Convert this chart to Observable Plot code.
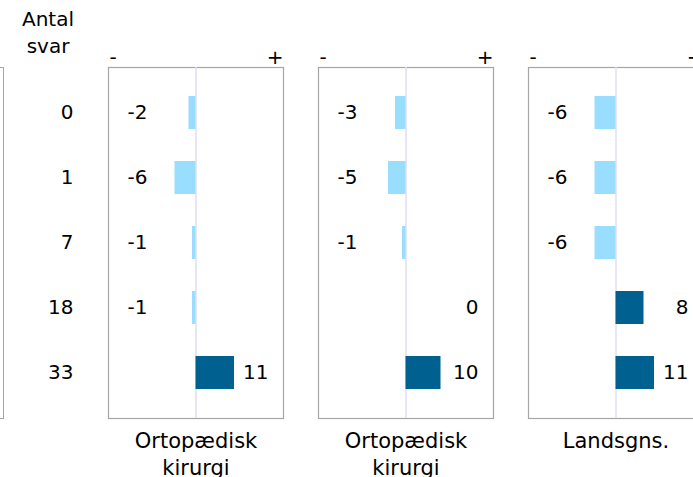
<!DOCTYPE html>
<html><head><meta charset="utf-8">
<script src="https://cdn.jsdelivr.net/npm/d3@7"></script>
<script src="https://cdn.jsdelivr.net/npm/@observablehq/plot@0.6"></script>
<style>
html,body{margin:0;padding:0;overflow:hidden;background:#fff;width:693px;height:477px}
#wrap{position:relative;width:720px;height:477px;font-family:"DejaVu Sans",Verdana,sans-serif}
#head{position:absolute;left:0;width:96px;top:6px;text-align:center;font-size:20px;line-height:27px;color:#000}
#leftpanel{position:absolute;left:-100px;top:67px;width:102px;height:350px;border:1px solid #a6a6a6}
#chart{position:absolute;left:0;top:0}
</style></head><body><div id="wrap"><div id="leftpanel"></div><div id="head">Antal<br>svar</div><div id="chart"></div></div>
<script>
const rows = ["0", "1", "7", "18", "33"];
const panelIds = ["p1", "p2", "p3"];
const panelLabels = ["Ortopædisk\nkirurgi", "Ortopædisk\nkirurgi", "Landsgns."];
const valuesP1 = [-2, -6, -1, -1, 11];
const valuesP2 = [-3, -5, -1, 0, 10];
const valuesP3 = [-6, -6, -6, 8, 11];
const negColor = "#99ddff";
const posColor = "#006090";

const allValues = [valuesP1, valuesP2, valuesP3];
const data = [];
panelIds.forEach((p, i) => rows.forEach((r, j) => data.push({panel: p, row: r, value: allValues[i][j]})));
const panelInfo = panelIds.map((id, i) => ({id, label: panelLabels[i]}));

const chart = Plot.plot({
  width: 720, height: 477,
  marginTop: 67, marginBottom: 59, marginLeft: 108, marginRight: 17,
  style: {fontFamily: "'DejaVu Sans', Verdana, sans-serif", fontSize: "20px", color: "#000", background: "transparent", overflow: "visible"},
  fx: {domain: panelIds, paddingInner: 35 / 210, paddingOuter: 0, axis: null},
  x: {domain: [-25, 25], axis: null},
  y: {domain: rows, paddingInner: 0.5, paddingOuter: 0.42, tickSize: 0, tickPadding: 35, label: null},
  marks: [
    Plot.frame({stroke: "#a6a6a6", strokeWidth: 1.2}),
    Plot.ruleX([0], {stroke: "#dedef5", strokeWidth: 1.5}),
    Plot.barX(data.filter(d => d.value < 0), {fx: "panel", y: "row", x: "value", fill: negColor}),
    Plot.barX(data.filter(d => d.value > 0), {fx: "panel", y: "row", x: "value", fill: posColor}),
    Plot.text(data.filter(d => d.value < 0), {fx: "panel", y: "row", text: d => String(d.value), frameAnchor: "left", dx: 19, textAnchor: "start", fill: "#000"}),
    Plot.text(data.filter(d => d.value >= 0), {fx: "panel", y: "row", text: d => String(d.value), frameAnchor: "right", dx: -15, textAnchor: "end", fill: "#000"}),
    Plot.text(panelInfo, {fx: "id", text: () => "-", frameAnchor: "top-left", dx: 1, dy: -10, lineAnchor: "middle", textAnchor: "start", fill: "#000"}),
    Plot.text(panelInfo, {fx: "id", text: () => "+", frameAnchor: "top-right", dx: 0, dy: -10, lineAnchor: "middle", textAnchor: "end", fill: "#000"}),
    Plot.text(panelInfo, {fx: "id", text: "label", frameAnchor: "bottom", dy: 10, lineAnchor: "top", lineHeight: 1.3, fontSize: 21, fill: "#000"})
  ]
});
document.getElementById("chart").appendChild(chart);
</script></body></html>
